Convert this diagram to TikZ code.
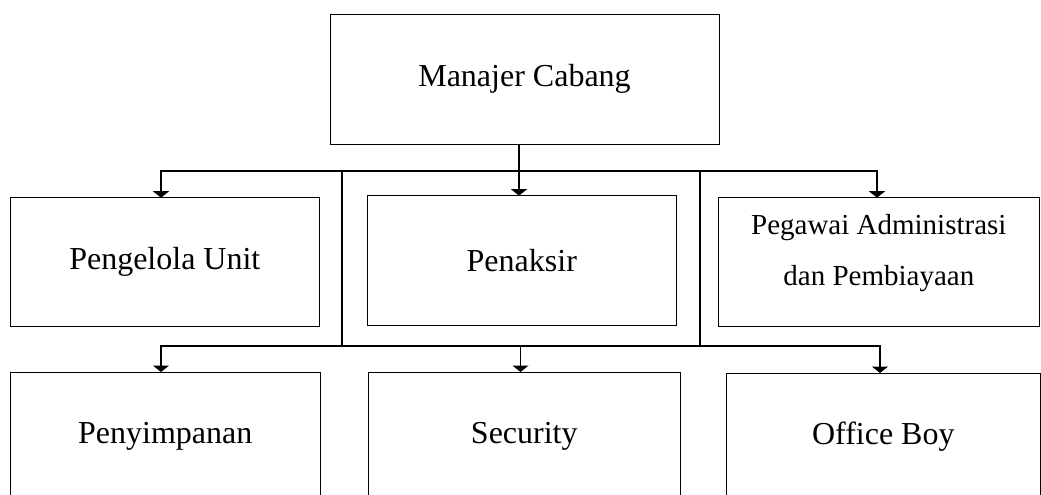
\documentclass[tikz,border=0pt]{standalone}
\usepackage{fontspec}
\setmainfont{Liberation Serif}
\usetikzlibrary{arrows.meta}
\begin{document}
\begin{tikzpicture}[x=1pt,y=-1pt,
  box/.style={draw, line width=0.9pt, inner sep=0pt, outer sep=0pt, align=center,
    font=\fontsize{32}{40}\selectfont},
  conn/.style={line width=1.9pt},
  tip/.tip={Triangle[width=16pt,length=6.5pt]}]
\useasboundingbox (0,0) rectangle (1041,495);
% boxes
\node[box, minimum width=389pt, minimum height=130pt] (mc) at (524.5,79) {Manajer Cabang};
\node[box, minimum width=308.3pt, minimum height=129pt] (pu) at (164.8,262.2) {Pengelola Unit};
\node[box, minimum width=308.3pt, minimum height=129.3pt] (pn) at (521.8,260.3) {Penaksir};
\node[box, minimum width=320.3pt, minimum height=129pt] (pa) at (878.8,262.2) {};
\node[align=center, inner sep=0pt, font=\fontsize{29}{51}\selectfont] (paT) at (878.8,253.5)
  {Pegawai Administrasi\\dan Pembiayaan};
\node[box, minimum width=310.7pt, minimum height=128pt] (ps) at (165.3,436) {Penyimpanan};
\node[box, minimum width=311.3pt, minimum height=128pt] (sc) at (524.3,436) {Security};
\node[box, minimum width=313.3pt, minimum height=128pt] (ob) at (883.3,437) {Office Boy};
% junctions
\coordinate (h1) at (519,170.7);
\coordinate (h1l) at (161,170.7);
\coordinate (h1r) at (877,170.7);
\coordinate (v1) at (342,170.7);
\coordinate (v2) at (700,170.7);
\coordinate (h2l) at (161,345.7);
\coordinate (h2m) at (520.5,345.7);
\coordinate (h2r) at (880,345.7);
% connectors
\draw[conn, -tip] (mc.south -| h1) -- (pn.north -| h1);
\draw[conn, tip-tip] (pu.north -| h1l) -- (h1l) -- (h1r) -- (pa.north -| h1r);
\draw[conn] (v1) -- (v1 |- h2l);
\draw[conn] (v2) -- (v2 |- h2l);
\draw[conn, tip-tip] (ps.north -| h2l) -- (h2l) -- (h2r) -- (ob.north -| h2r);
\draw[conn, -tip] (h2m) -- (sc.north -| h2m);
\end{tikzpicture}
\end{document}
